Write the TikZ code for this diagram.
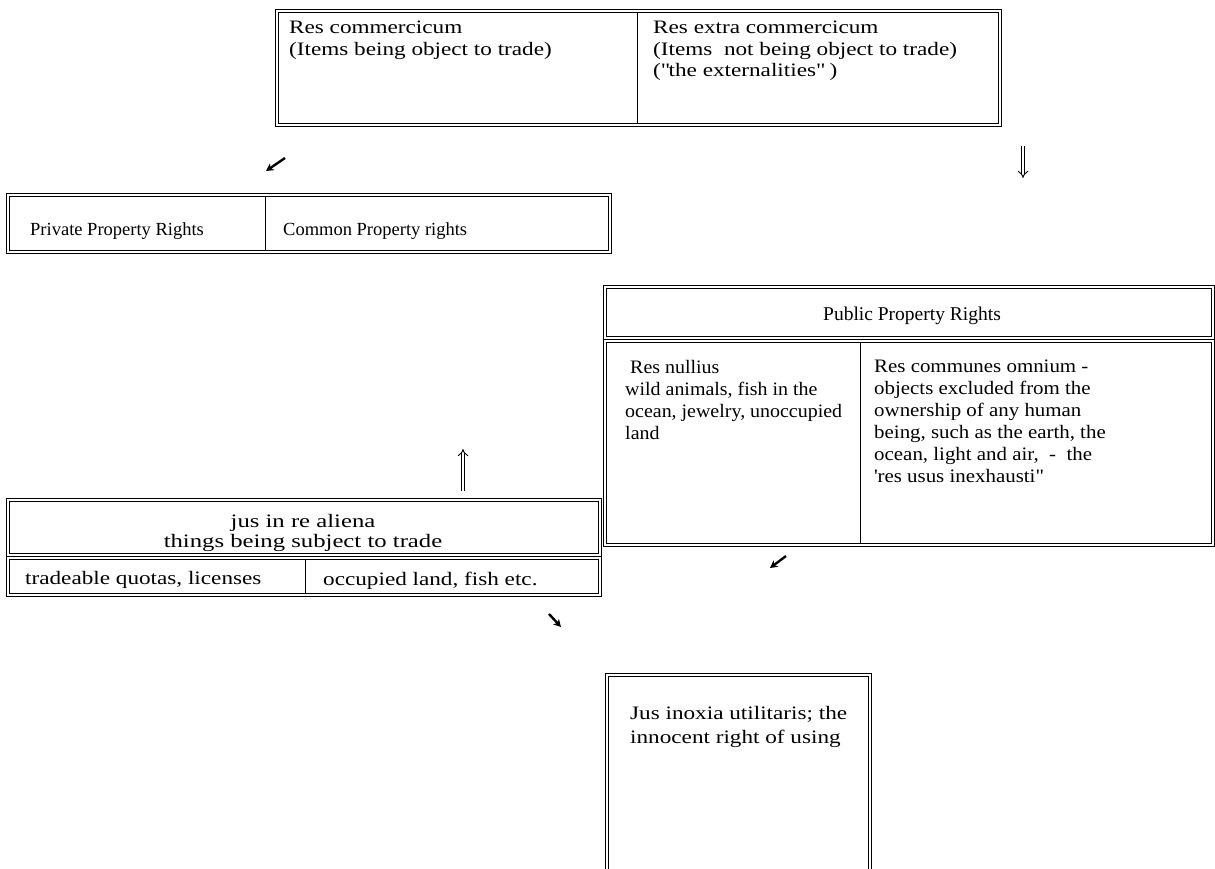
\documentclass[tikz,border=0pt]{standalone}
\usepackage{fontspec}
\setmainfont{Liberation Serif}
\newfontfamily\fA{Liberation Serif}
\newfontfamily\fE{Liberation Serif}[FakeStretch=1.05]
\newfontfamily\fB{Liberation Serif}[FakeStretch=1.1]
\newfontfamily\fC{Liberation Serif}[FakeStretch=1.22]
\newfontfamily\fD{Liberation Serif}[FakeStretch=1.3]
\usetikzlibrary{arrows.meta,calc}
\begin{document}
\begin{tikzpicture}[x=1pt,y=-1pt,
  dbox/.style={draw, line width=1.1pt, double distance=2.6pt, inner sep=0pt, outer sep=0pt, anchor=north west},
  txt/.style={inner sep=0pt, anchor=north west, align=left, font=\fontsize{19}{21.5}\selectfont},
  divl/.style={line width=0.9pt},
  sarrow/.style={line width=2.4pt, -{Stealth[length=7.5pt,width=8pt]}},
  darrow/.style={double, line width=0.9pt, double distance=2.8pt, -{Implies}}]
\useasboundingbox (0,0) rectangle (1215,869);
\clip (0,0) rectangle (1215,869);
\fill[white] (0,0) rectangle (1215,869);

% top box
\node[dbox, minimum width=723pt, minimum height=114pt] (top) at (277,11) {};
\draw[divl] ($(top.north west)+(360,2)$) -- ($(top.south west)+(360,-2)$);
\node[txt, font=\fC\fontsize{19}{21.5}\selectfont] (tl) at (289,21) {Res commercicum\\(Items being object to trade)};
\node[txt, font=\fC\fontsize{19}{21.5}\selectfont] (tr) at (653,21) {Res extra commercicum\\(Items\ \ not being object to trade)\\(\textquotedbl the externalities\textquotedbl\ )};

% private / common
\node[dbox, minimum width=602pt, minimum height=57pt] (priv) at (8,195) {};
\draw[divl] ($(priv.north west)+(257,2)$) -- ($(priv.south west)+(257,-2)$);
\node[txt, font=\fA\fontsize{18.5}{21}\selectfont] (pl) at (30,222) {Private Property Rights};
\node[txt, font=\fA\fontsize{18.5}{21}\selectfont] (pr) at (283,222) {Common Property rights};

% public property rights
\node[dbox, minimum width=608pt, minimum height=51pt] (pubh) at (605,287) {};
\node[txt, anchor=center, font=\fA\fontsize{19.5}{22}\selectfont] (ph) at (912,316) {Public Property Rights};
\node[dbox, minimum width=608pt, minimum height=204pt] (pubb) at (605,341) {};
\draw[divl] ($(pubb.north west)+(255,2)$) -- ($(pubb.south west)+(255,-2)$);
\node[txt, font=\fE\fontsize{19}{22}\selectfont] (nl) at (625,360) {\ Res nullius\\wild animals, fish in the\\ocean, jewelry, unoccupied\\land};
\node[txt, font=\fB\fontsize{19}{22}\selectfont] (nr) at (874,360) {Res communes omnium -\\objects excluded from the\\ownership of any human\\being, such as the earth, the\\ocean, light and air,\ \ -\ \ the\\\textquotesingle res usus inexhausti\textquotedbl};

% jus in re aliena
\node[dbox, minimum width=592pt, minimum height=55pt] (jush) at (8,500) {};
\node[txt, anchor=north, align=center, font=\fD\fontsize{19}{20}\selectfont] (jh) at (303,514.5) {jus in re aliena\\things being subject to trade};
\node[dbox, minimum width=592pt, minimum height=37pt] (jusb) at (8,558) {};
\draw[divl] ($(jusb.north west)+(297,2)$) -- ($(jusb.south west)+(297,-2)$);
\node[txt, font=\fC\fontsize{19}{21}\selectfont] (jl) at (25,571.5) {tradeable quotas, licenses};
\node[txt, font=\fC\fontsize{19}{21}\selectfont] (jr) at (323,571.5) {occupied land, fish etc.};

% bottom box
\node[dbox, minimum width=263pt, minimum height=220pt] (bot) at (607,675) {};
\node[txt, font=\fC\fontsize{19}{24}\selectfont] (bt) at (630,706.5) {Jus inoxia utilitaris; the\\innocent right of using};

% arrows
\coordinate (a1s) at (285,158); \coordinate (a1e) at (266,171);
\coordinate (a2s) at (1023,146); \coordinate (a2e) at (1023,178);
\coordinate (a3s) at (463,491); \coordinate (a3e) at (463,449);
\coordinate (a4s) at (786,556); \coordinate (a4e) at (770,568);
\coordinate (a5s) at (549,614); \coordinate (a5e) at (561,627);
\draw[sarrow] (a1s) -- (a1e);
\draw[darrow] (a2s) -- (a2e);
\draw[darrow] (a3s) -- (a3e);
\draw[sarrow] (a4s) -- (a4e);
\draw[sarrow] (a5s) -- (a5e);
\end{tikzpicture}
\end{document}
